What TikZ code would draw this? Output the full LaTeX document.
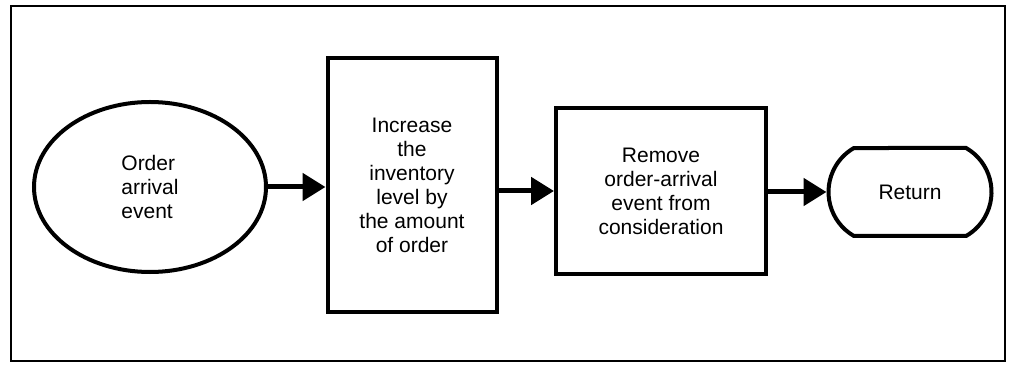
\documentclass[tikz,border=0pt]{standalone}
\usepackage{fontspec}
\setmainfont{Liberation Sans}
\usepackage{tikz}
\usetikzlibrary{arrows.meta, shapes.geometric, shapes.misc}

\begin{document}
\begin{tikzpicture}[x=0.5pt, y=0.5pt,
  outline/.style={draw, line width=2pt, inner sep=0pt, align=center,
    font=\fontsize{10.5}{12}\selectfont},
  flow/.style={line width=2.5pt, -{Triangle[length=11.5pt, width=13.5pt]}}]
  \useasboundingbox (0,0) rectangle (1010,364);
  % Outer frame
  \draw[line width=1pt] (11,3) rectangle (1005,358);
  % Event bubble
  \node[outline, ellipse, minimum width=116pt, minimum height=85pt, align=left]
    (evt) at (150,177) {Order\\arrival\\event};
  % Processing boxes
  \node[outline, rectangle, minimum width=84.5pt, minimum height=127pt]
    (incbox) at (412,179) {Increase\\the\\inventory\\level by\\the amount\\of order};
  \node[outline, rectangle, minimum width=105pt, minimum height=82.5pt]
    (rembox) at (661,173) {Remove\\order-arrival\\event from\\consideration};
  % Terminal
  \node[outline, rounded rectangle, rounded rectangle arc length=120,
    minimum width=81.5pt, minimum height=44pt]
    (ret) at (910,172) {Return};
  % Connectors
  \draw[flow] (evt.east) -- (evt.east -| incbox.west);
  \draw[flow] (rembox.west -| incbox.east) -- (rembox.west);
  \draw[flow] (rembox.east |- ret.west) -- (ret.west);
\end{tikzpicture}
\end{document}
